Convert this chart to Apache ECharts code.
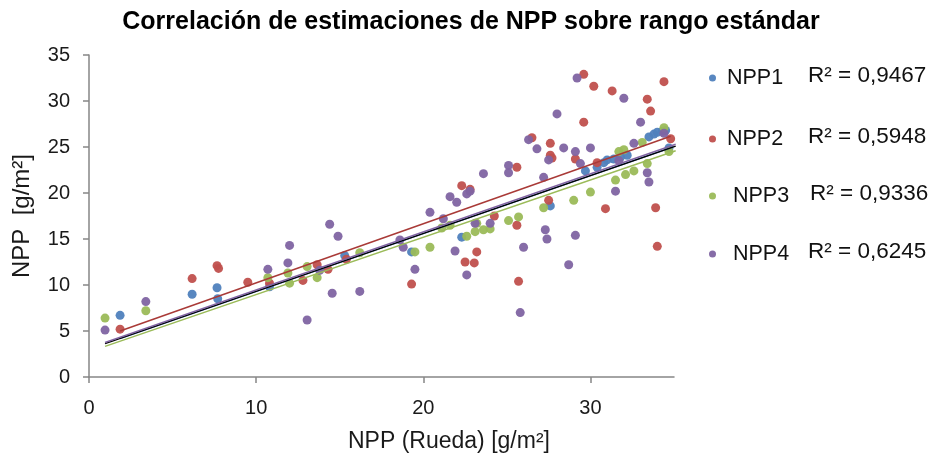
<!DOCTYPE html>
<html>
<head>
<meta charset="utf-8">
<script src="https://cdn.jsdelivr.net/npm/echarts@6/dist/echarts.min.js"></script>
<style>
  html, body { margin: 0; padding: 0; background: #ffffff; }
  #chart { width: 935px; height: 463px; }
</style>
</head>
<body>
<div id="chart"></div>
<script>
// Series names and the R² of each linear fit
const seriesNames = ['NPP1', 'NPP2', 'NPP3', 'NPP4'];
const r2Labels = ['R² = 0,9467', 'R² = 0,5948', 'R² = 0,9336', 'R² = 0,6245'];
const seriesColors = ['#4F81BD', '#C0504D', '#9BBB59', '#8064A2'];

// [NPP (Rueda), NPP estimate] pairs, g/m²
const npp1 = [
  [1.86, 6.7], [6.17, 9.0], [7.66, 9.7], [7.7, 8.5], [10.8, 9.8], [15.3, 13.2],
  [19.3, 13.6], [22.3, 15.2], [27.6, 18.6], [29.7, 22.4], [30.4, 22.8], [30.8, 23.3],
  [31.0, 23.6], [31.4, 23.7], [31.8, 23.9], [32.2, 24.1], [33.5, 26.1], [33.8, 26.4],
  [34.0, 26.6], [34.3, 26.7], [34.5, 26.8], [34.7, 24.9]
];
const npp2 = [
  [1.86, 5.2], [6.17, 10.7], [7.66, 12.1], [7.75, 11.8], [9.5, 10.3], [10.8, 10.2],
  [12.8, 10.5], [13.65, 12.2], [14.3, 11.7], [15.4, 12.8], [19.3, 10.1], [22.3, 20.8],
  [22.8, 20.4], [22.5, 12.5], [23.05, 12.4], [23.2, 13.6], [24.25, 17.5], [25.6, 16.5],
  [25.6, 22.8], [25.7, 10.4], [26.5, 26.0], [27.5, 19.2], [27.6, 25.4], [27.6, 24.1],
  [27.7, 23.8], [29.1, 23.7], [29.6, 27.7], [29.6, 32.9], [30.2, 31.6], [30.4, 23.3],
  [30.9, 18.3], [31.3, 31.1], [33.4, 30.2], [33.6, 28.9], [33.9, 18.4], [34.0, 14.2],
  [34.4, 32.1], [34.8, 25.9]
];
const npp3 = [
  [0.96, 6.4], [3.4, 7.2], [10.7, 10.8], [11.9, 11.3], [12.0, 10.2], [13.05, 12.0],
  [13.65, 10.8], [16.2, 13.5], [19.5, 13.6], [20.4, 14.1], [21.1, 16.2], [21.6, 16.5],
  [22.6, 15.3], [23.1, 15.8], [23.6, 16.0], [24.0, 16.1], [23.2, 16.7], [25.1, 17.0],
  [25.7, 17.4], [27.2, 18.4], [29.0, 19.2], [30.0, 20.1], [31.5, 21.4], [32.1, 22.0],
  [32.6, 22.4], [33.4, 23.2], [31.7, 24.5], [32.0, 24.7], [33.1, 25.5], [34.4, 27.1],
  [34.7, 24.5], [35.1, 27.6]
];
const npp4 = [
  [0.96, 5.1], [3.4, 8.2], [10.7, 11.7], [11.9, 12.4], [12.0, 14.3], [13.05, 6.2],
  [13.8, 11.6], [14.4, 16.6], [14.55, 9.1], [14.9, 15.3], [16.2, 9.3], [18.6, 14.9],
  [18.8, 14.1], [19.5, 11.7], [20.4, 17.9], [21.2, 17.2], [21.6, 19.6], [21.9, 13.7],
  [22.0, 19.0], [22.6, 19.9], [22.8, 20.2], [22.6, 11.1], [23.6, 22.1], [24.0, 16.7],
  [23.1, 16.7], [25.1, 23.0], [25.1, 22.2], [25.8, 7.0], [26.0, 14.1], [26.3, 25.8],
  [26.8, 24.8], [27.2, 21.7], [27.3, 16.0], [27.4, 15.0], [27.5, 23.6], [28.0, 28.6],
  [28.4, 24.9], [28.7, 12.2], [29.1, 24.5], [29.1, 15.4], [29.2, 32.5], [29.4, 23.2],
  [30.0, 24.9], [31.5, 20.2], [31.7, 23.5], [32.0, 30.3], [32.6, 25.4], [33.0, 27.7],
  [33.4, 22.2], [33.5, 21.2], [34.4, 26.5], [35.1, 28.6]
];

// Linear fits y = intercept + slope * x, drawn over [xStart, xEnd]
const trendNames = ['Lineal (NPP1)', 'Lineal (NPP2)', 'Lineal (NPP3)', 'Lineal (NPP4)', 'Lineal (total)'];
const trendColors = ['#4F81BD', '#A93A37', '#9BBB59', '#8064A2', '#000000'];
const trendSlope = [0.630, 0.643, 0.623, 0.631, 0.629];
const trendIntercept = [3.00, 3.80, 2.73, 3.15, 3.02];
const trendXStart = [1.86, 1.86, 0.96, 0.96, 0.96];
const trendXEnd = [34.8, 34.8, 35.1, 35.1, 35.1];

const xTicks = [0, 10, 20, 30];

const pointSets = [npp1, npp2, npp3, npp4];
const FONT = '"Liberation Sans", Arial, sans-serif';

const chart = echarts.init(document.getElementById('chart'));

const series = [];
pointSets.forEach((pts, i) => {
  series.push({
    name: seriesNames[i],
    type: 'scatter',
    data: pts,
    symbol: 'circle',
    symbolSize: 9,
    itemStyle: { color: seriesColors[i], opacity: 0.95 },
    z: 2
  });
});
// fits drawn back to front so the total fit sits over the others
[2, 0, 4, 3, 1].forEach((i) => {
  series.push({
    name: trendNames[i],
    type: 'line',
    data: [
      [trendXStart[i], trendIntercept[i] + trendSlope[i] * trendXStart[i]],
      [trendXEnd[i], trendIntercept[i] + trendSlope[i] * trendXEnd[i]]
    ],
    showSymbol: false,
    symbol: 'none',
    silent: true,
    lineStyle: { color: trendColors[i], width: 1.5 },
    z: 3
  });
});

const legendMid = [77, 138, 195, 253];

chart.setOption({
  animation: false,
  backgroundColor: '#ffffff',
  title: {
    text: 'Correlación de estimaciones de NPP sobre rango estándar',
    left: 466,
    textAlign: 'center',
    top: 5,
    textStyle: { fontFamily: FONT, fontWeight: 'bold', fontSize: 25, color: '#000000' }
  },
  grid: { left: 89, right: 261, top: 55, bottom: 86 },
  xAxis: {
    type: 'value',
    min: 0, max: 35, interval: 10,
    splitLine: { show: false },
    axisLine: { lineStyle: { color: '#868686', width: 1.5 } },
    axisTick: { show: true, customValues: xTicks, length: 6, lineStyle: { color: '#868686', width: 1.5 } },
    axisLabel: { customValues: xTicks, fontFamily: FONT, fontSize: 20, color: '#1a1a1a', margin: 21 }
  },
  yAxis: {
    type: 'value',
    min: 0, max: 35, interval: 5,
    splitLine: { show: false },
    name: 'NPP  [g/m²]',
    nameLocation: 'middle',
    nameGap: 55,
    nameTextStyle: { fontFamily: FONT, fontSize: 24, color: '#1a1a1a' },
    axisLine: { show: true, lineStyle: { color: '#868686', width: 1.5 } },
    axisTick: { show: true, length: 6, lineStyle: { color: '#868686', width: 1.5 } },
    axisLabel: { fontFamily: FONT, fontSize: 20, color: '#1a1a1a', margin: 19 }
  },
  legend: seriesNames.map((name, i) => ({
    data: [name],
    left: 704,
    top: legendMid[i] - 15,
    icon: 'circle',
    itemWidth: 7,
    itemHeight: 7,
    itemGap: 0,
    selectedMode: false,
    textStyle: {
      fontFamily: FONT, fontSize: 21.5, color: '#111111',
      padding: [0, 0, 0, i >= 2 ? 12 : 6]
    }
  })),
  graphic: r2Labels.map((t, i) => ({
    type: 'text',
    left: i === 2 ? 810 : 808,
    top: legendMid[i] - 13,
    style: { text: t, font: '22.5px ' + FONT, fill: '#111111' }
  })).concat([{
    type: 'text',
    left: 348,
    top: 430,
    style: { text: 'NPP (Rueda) [g/m²]', font: '23px ' + FONT, fill: '#1a1a1a' }
  }]),
  series: series
});
</script>
</body>
</html>
